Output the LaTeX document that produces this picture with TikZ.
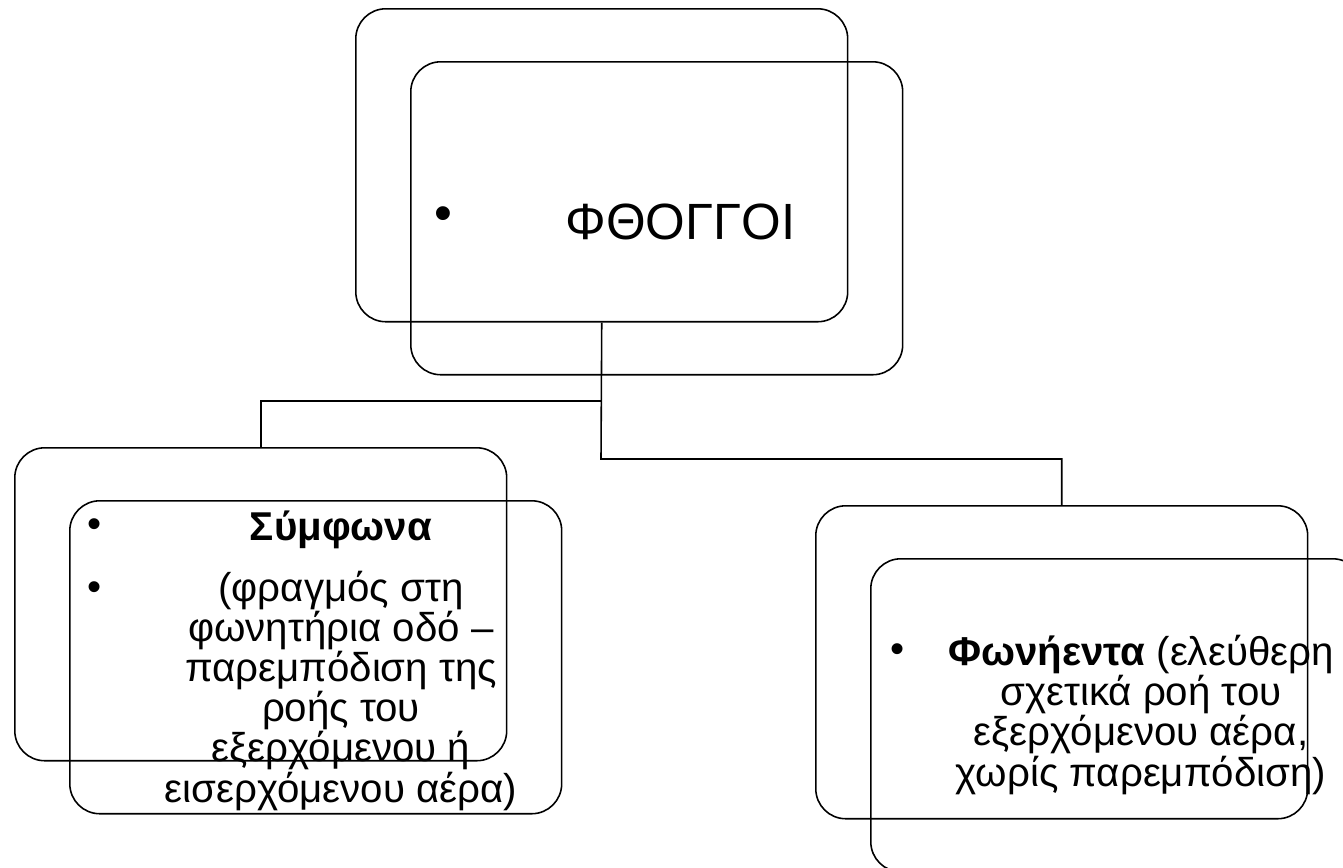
\documentclass[tikz,border=0pt]{standalone}
\usepackage{fontspec}
\setmainfont{Liberation Sans}
\usetikzlibrary{positioning}

\begin{document}
\begin{tikzpicture}[x=0.02cm, y=-0.02cm,
  plaisio/.style={draw, line width=0.9pt, rounded corners=0.6cm,
    minimum width=9.84cm, minimum height=6.26cm, anchor=north west, inner sep=0pt},
  keimeno/.style={align=center, inner sep=0pt,
    font=\fontsize{22.9}{22.8}\selectfont},
  titlos/.style={inner sep=0pt, font=\fontsize{29}{34}\selectfont},
  syndesi/.style={line width=0.9pt}
]
\useasboundingbox (0,0) rectangle (1343,867);
% diplo plaisio gia kathe ennoia
\foreach \onoma/\x/\y in {
  fthongoi/355/8,
  symfona/14/447,
  fonienta/815/505}
{
  \node[plaisio] (\onoma-piso) at (\x,\y) {};
  \node[plaisio] (\onoma-mpros) at (\x+55,\y+53) {};
}
% kentriki ennoia
\node[titlos] (fthongoi-koukida) at (443,219) {•};
\node[titlos, anchor=base west] (fthongoi-keimeno) at (565,239) {ΦΘΟΓΓΟΙ};
% symfona (to base einai i teleftaia grammi)
\node[keimeno] (symfona-koukida-a) at (95,528) {•};
\node[keimeno] (symfona-koukida-b) at (95,591) {•};
\node[keimeno, anchor=base] (symfona-titlos) at (341,540) {\textbf{Σύμφωνα}};
\node[keimeno, anchor=base] (symfona-keimeno) at (341,802)
  {(φραγμός στη\\φωνητήρια οδό –\\παρεμπόδιση της\\ροής του\\εξερχόμενου ή\\εισερχόμενου αέρα)};
% fonienta
\node[keimeno] (fonienta-koukida) at (898,653) {•};
\node[keimeno, anchor=base] (fonienta-keimeno) at (1141,786)
  {\textbf{Φωνήεντα} (ελεύθερη\\σχετικά ροή του\\εξερχόμενου αέρα,\\χωρίς παρεμπόδιση)};
% syndeseis
\coordinate (kombos-a) at (601,401);
\coordinate (kombos-d) at (601,459);
\draw[syndesi] (fthongoi-piso.south) -- (kombos-d) -| (fonienta-piso.north);
\draw[syndesi] (kombos-a) -| (symfona-piso.north);
\end{tikzpicture}
\end{document}
